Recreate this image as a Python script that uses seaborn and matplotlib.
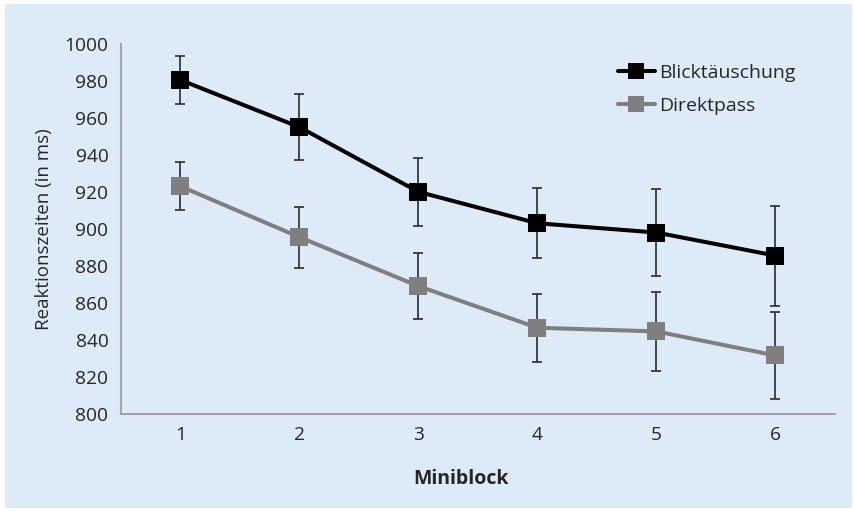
import numpy as np
import pandas as pd
import seaborn as sns
import matplotlib.pyplot as plt
from matplotlib.patches import Rectangle

# Daten
miniblock = [1, 2, 3, 4, 5, 6]
blick_mean = [980.5, 955, 920, 903, 898, 885.5]
blick_err = [13, 18, 18.5, 19, 23.5, 27]
direkt_mean = [923, 895.5, 869, 846.5, 844.5, 831.5]
direkt_err = [13, 16.5, 18, 18.5, 21.5, 23.5]
gruppen = ['Blicktäuschung', 'Direktpass']

df = pd.DataFrame({
    'Miniblock': miniblock * 2,
    'RT': blick_mean + direkt_mean,
    'err': blick_err + direkt_err,
    'Bedingung': [gruppen[0]] * 6 + [gruppen[1]] * 6,
})

sns.set_style('white')
plt.rcParams['font.family'] = ['Open Sans', 'DejaVu Sans']

farben = {'Blicktäuschung': '#000000', 'Direktpass': '#7f7f7f'}
bg = '#ddeaf7'

fig = plt.figure(figsize=(8.55, 5.11), dpi=100)
fig.patch.set_facecolor('white')
fig.patches.append(Rectangle((0.006, 0.006), 0.99, 0.986, transform=fig.transFigure,
                             facecolor=bg, edgecolor='none', zorder=-10))
ax = fig.add_axes([0.1415, 0.1904, 0.835, 0.7236])
ax.set_facecolor(bg)

# Fehlerbalken
for g in gruppen:
    sub = df[df['Bedingung'] == g]
    ax.errorbar(sub['Miniblock'], sub['RT'], yerr=sub['err'], fmt='none',
                ecolor='#2b2b2b', elinewidth=1.2, capsize=3.5, capthick=1.2, zorder=2)

sns.lineplot(data=df, x='Miniblock', y='RT', hue='Bedingung', palette=farben,
             marker='s', markersize=12.5, markeredgewidth=0, linewidth=2.9,
             errorbar=None, ax=ax, zorder=3)

ax.set_xlim(0.5, 6.5)
ax.set_ylim(800, 1000)
ax.set_yticks(np.arange(800, 1001, 20))
ax.set_xticks(miniblock)
ax.tick_params(axis='y', length=6, color='#a0a4a8', labelsize=13.8, pad=3)
ax.tick_params(axis='x', length=0, labelsize=13.8, pad=9)
for s in ['top', 'right']:
    ax.spines[s].set_visible(False)
for s in ['left', 'bottom']:
    ax.spines[s].set_color('#a0a4a8')
    ax.spines[s].set_linewidth(1.5)

ax.set_xlabel('Miniblock', fontsize=14, fontweight='bold')
ax.xaxis.set_label_coords(0.476, -0.15)
ax.set_ylabel('Reaktionszeiten (in ms)', fontsize=13.5, labelpad=8)

leg = ax.legend(loc='upper left', bbox_to_anchor=(618 / 855, 1 - 64 / 511),
                bbox_transform=fig.transFigure, frameon=False, borderpad=0,
                borderaxespad=0, fontsize=14, handlelength=1.9,
                handletextpad=0.2, labelspacing=0.75, markerscale=0.95)

fig.savefig('out.png', dpi=100, facecolor=fig.get_facecolor())
